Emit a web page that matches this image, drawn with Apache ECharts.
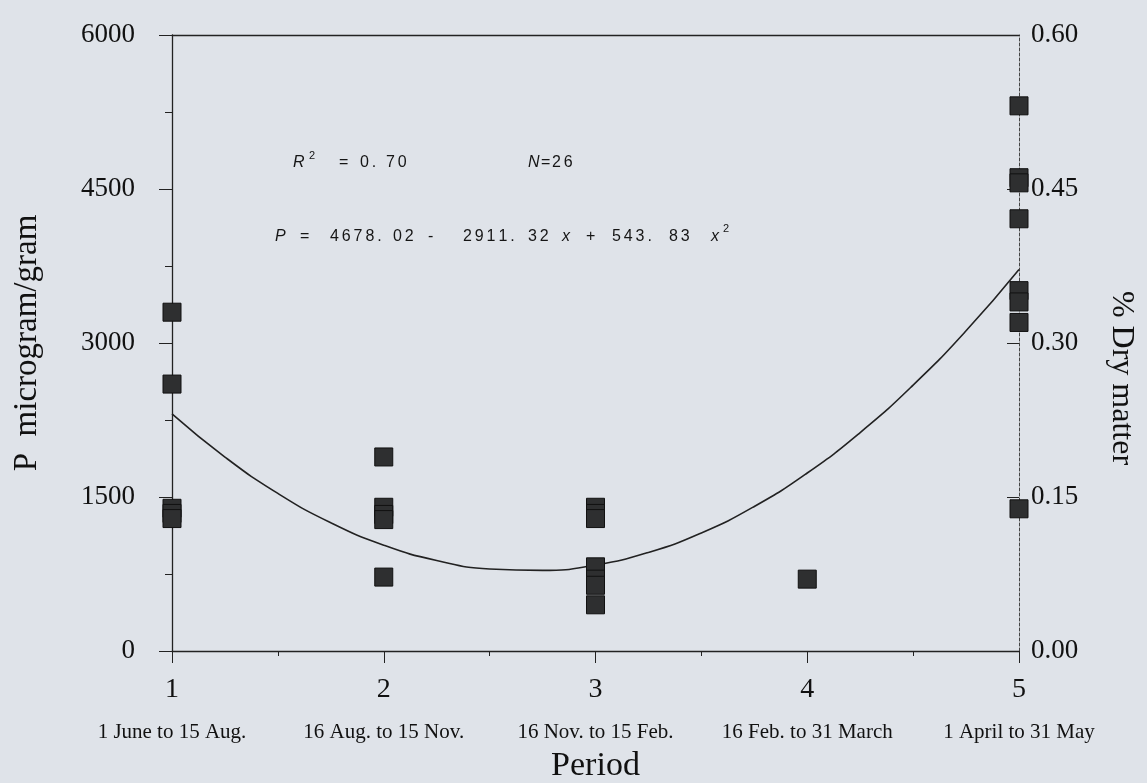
<!DOCTYPE html>
<html>
<head>
<meta charset="utf-8">
<script src="https://cdn.jsdelivr.net/npm/echarts@6/dist/echarts.min.js"></script>
<style>
  html, body { margin: 0; padding: 0; background: #dfe3e9; }
  #chart { width: 1147px; height: 783px; }
</style>
</head>
<body>
<div id="chart"></div>
<script>
// Period numbers and their date ranges
const periods = [1, 2, 3, 4, 5];
const periodLabels = ['1 June to 15 Aug.', '16 Aug. to 15 Nov.', '16 Nov. to 15 Feb.', '16 Feb. to 31 March', '1 April to 31 May'];

// Observations (P, microgram/gram)
const pointPeriod = [1, 1, 1, 1, 1,
                     2, 2, 2, 2, 2,
                     3, 3, 3, 3, 3, 3, 3,
                     4,
                     5, 5, 5, 5, 5, 5, 5, 5];
const pointP = [3300, 2600, 1390, 1340, 1290,
                1890, 1400, 1330, 1280, 720,
                1400, 1340, 1290, 820, 700, 640, 450,
                700,
                5310, 4610, 4560, 4210, 3510, 3400, 3200, 1385];

// Fitted curve
const curveX = [1, 1.25, 1.5, 1.75, 2, 2.25, 2.5, 2.75, 3, 3.25, 3.5, 3.75, 4, 4.25, 4.5, 4.75, 5];
const curveP = [2310, 1889, 1535, 1249, 1031, 881, 799, 785, 838, 960, 1150, 1408, 1734, 2128, 2590, 3119, 3717];

// Axis ticks
const leftTicks = [0, 1500, 3000, 4500, 6000];
const rightTicks = [0.00, 0.15, 0.30, 0.45, 0.60];

// Annotation text pieces
const fitStats = [
  { t: 'R', x: 293, y: 163, it: true }, { t: '2', x: 309, y: 156, sup: true },
  { t: '=', x: 339, y: 163 }, { t: '0.', x: 360, y: 163 }, { t: '70', x: 386, y: 163 },
  { t: 'N', x: 528, y: 163, it: true }, { t: '=', x: 541, y: 163 }, { t: '26', x: 552, y: 163 }
];
const fitEquation = [
  { t: 'P', x: 275, y: 237, it: true }, { t: '=', x: 300, y: 237 },
  { t: '4678.', x: 330, y: 237 }, { t: '02', x: 393, y: 237 }, { t: '-', x: 428, y: 237 },
  { t: '2911.', x: 463, y: 237 }, { t: '32', x: 528, y: 237 }, { t: 'x', x: 562, y: 237, it: true },
  { t: '+', x: 586, y: 237 },
  { t: '543.', x: 612, y: 237 }, { t: '83', x: 669, y: 237 }, { t: 'x', x: 711, y: 237, it: true },
  { t: '2', x: 723, y: 229, sup: true }
];

const serif = '"Liberation Serif", "DejaVu Serif", serif';
const sans = '"Liberation Sans", "DejaVu Sans", sans-serif';
const ink = '#222';

function annot(pieces) {
  const out = [];
  pieces.forEach(p => {
    const adv = p.sup ? 0 : 11.8;
    [...p.t].forEach((ch, k) => {
      out.push({
        type: 'text', x: p.x + k * adv, y: p.y, silent: true,
        style: {
          text: ch, fill: '#151515',
          fontFamily: sans, fontSize: p.sup ? 11 : 16,
          fontStyle: p.it ? 'italic' : 'normal',
          textAlign: 'left', textVerticalAlign: 'middle'
        }
      });
    });
  });
  return out;
}

const chart = echarts.init(document.getElementById('chart'));
chart.setOption({
  backgroundColor: '#dfe3e9',
  animation: false,
  grid: {
    left: 172, right: 128, top: 35, bottom: 132,
    outerBoundsMode: 'none', containLabel: false, show: false
  },
  xAxis: [
    {
      type: 'value', min: periods[0], max: periods[periods.length - 1], interval: 1,
      axisLine: { show: true, onZero: false, lineStyle: { color: ink, width: 1.3 } },
      axisTick: { show: true, length: 12, lineStyle: { color: ink } },
      minorTick: { show: true, splitNumber: 2, length: 5, lineStyle: { color: ink } },
      splitLine: { show: false },
      axisLabel: {
        margin: 14,
        formatter: v => '{n|' + v + '}\n{c|' + periodLabels[periods.indexOf(v)] + '}',
        rich: {
          n: { fontFamily: serif, fontSize: 28, color: '#111', lineHeight: 50 },
          c: { fontFamily: serif, fontSize: 21, color: '#111', lineHeight: 34 }
        }
      },
      name: 'Period', nameLocation: 'middle', nameGap: 98,
      nameTextStyle: { fontFamily: serif, fontSize: 34, color: '#111' }
    },
    {
      type: 'value', position: 'top', min: periods[0], max: periods[periods.length - 1],
      axisLine: { show: true, onZero: false, lineStyle: { color: ink, width: 1.3 } },
      axisTick: { show: false }, axisLabel: { show: false }, splitLine: { show: false }
    }
  ],
  yAxis: [
    {
      type: 'value', min: leftTicks[0], max: leftTicks[leftTicks.length - 1], interval: 1500,
      axisLine: { show: true, onZero: false, lineStyle: { color: ink, width: 1.3 } },
      axisTick: { show: true, length: 13, lineStyle: { color: ink } },
      minorTick: { show: true, splitNumber: 2, length: 7, lineStyle: { color: ink } },
      splitLine: { show: false },
      axisLabel: { margin: 37, fontFamily: serif, fontSize: 27, color: '#111', formatter: v => String(v) },
      name: 'P  microgram/gram', nameLocation: 'middle', nameGap: 128,
      nameTextStyle: { fontFamily: serif, fontSize: 33, color: '#111' }
    },
    {
      type: 'value', min: rightTicks[0], max: rightTicks[rightTicks.length - 1], interval: 0.15,
      position: 'right',
      axisLine: { show: true, onZero: false, lineStyle: { color: '#444', width: 1, type: [3, 2] } },
      axisTick: { show: true, inside: true, length: 12, lineStyle: { color: ink } },
      splitLine: { show: false },
      axisLabel: { margin: 12, fontFamily: serif, fontSize: 27, color: '#111', formatter: v => v.toFixed(2) },
      name: '% Dry matter', nameLocation: 'middle', nameGap: 86, nameRotate: -90,
      nameTextStyle: { fontFamily: serif, fontSize: 32, color: '#111', padding: [0, 0, 0, 70] }
    }
  ],
  series: [
    {
      type: 'line', yAxisIndex: 0, smooth: true, showSymbol: false, silent: true,
      data: curveX.map((x, i) => [x, curveP[i]]),
      lineStyle: { color: ink, width: 1.6 }, z: 2
    },
    {
      type: 'scatter', yAxisIndex: 0, symbol: 'rect', symbolSize: 18,
      data: pointPeriod.map((x, i) => [x, pointP[i]]),
      itemStyle: { color: '#2e2f30', borderColor: '#111', borderWidth: 1, opacity: 1 }, z: 3
    }
  ],
  graphic: annot(fitStats).concat(annot(fitEquation))
});
</script>
</body>
</html>
